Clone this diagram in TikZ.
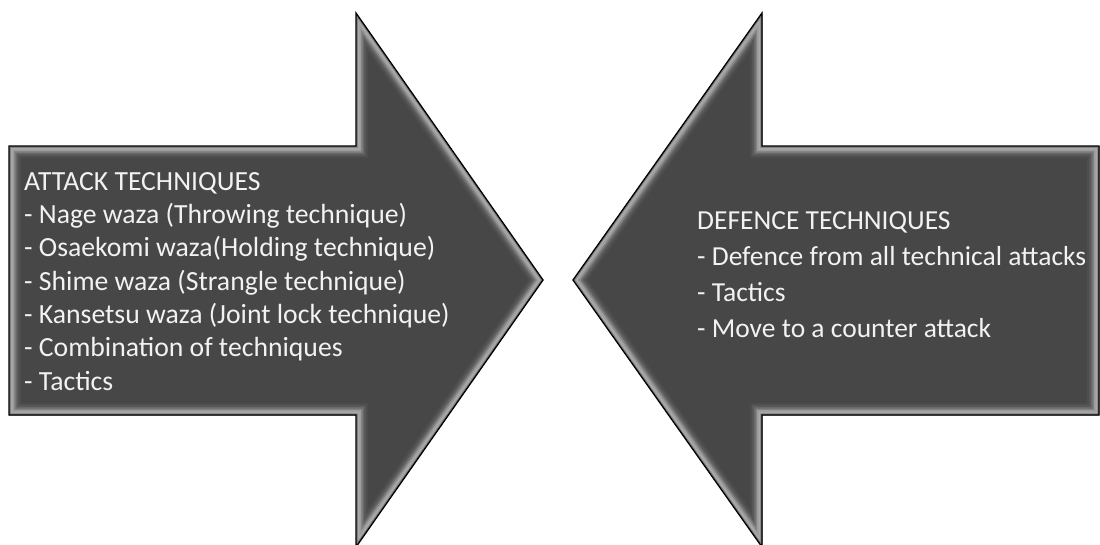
\documentclass[tikz,border=0pt]{standalone}
\usepackage{fontspec}
\setmainfont{Carlito}
\definecolor{arrowfill}{HTML}{474747}
\definecolor{bev1}{HTML}{4D4D4D}
\definecolor{bev2}{HTML}{585858}
\definecolor{bev3}{HTML}{6A6A6A}
\definecolor{bev4}{HTML}{828282}
\definecolor{bev5}{HTML}{9C9C9C}
\definecolor{bev6}{HTML}{A8A8A8}
\definecolor{bev7}{HTML}{808080}
\definecolor{textwhite}{HTML}{F2F2F2}
\tikzset{
  listtext/.style={text=textwhite, align=left, inner sep=0pt, anchor=base west},
}
% bevelled block arrow: fill, inner soft ridge (clipped strokes), black rim
\newcommand{\bevelarrow}[1]{%
  \fill[arrowfill] #1;
  \begin{scope}
    \clip #1;
    \draw[bev1, line width=24pt, line join=miter] #1;
    \draw[bev2, line width=20pt, line join=miter] #1;
    \draw[bev3, line width=16pt, line join=miter] #1;
    \draw[bev4, line width=13pt, line join=miter] #1;
    \draw[bev5, line width=10pt, line join=miter] #1;
    \draw[bev6, line width=7pt, line join=miter] #1;
    \draw[bev7, line width=3.5pt, line join=miter] #1;
  \end{scope}
  \draw[black, line width=1.3pt, line join=miter] #1;
}
\begin{document}
\begin{tikzpicture}[x=1pt,y=-1pt]
  \useasboundingbox (0,0) rectangle (1100,544);
  \fill[white] (0,0) rectangle (1100,544);
  % attack arrow pointing right
  \bevelarrow{(9,146) -- (356,146) -- (356,13) -- (543,280) -- (356,547) -- (356,415) -- (9,415) -- cycle}
  % defence arrow pointing left
  \bevelarrow{(1099,146) -- (762,146) -- (762,13) -- (573,280) -- (762,547) -- (762,415) -- (1099,415) -- cycle}
  % base anchor sits on the last line
  \node[listtext, font=\fontsize{27.7}{33.3}\selectfont] (attack) at (24,390)
    {ATTACK TECHNIQUES\\
     - Nage waza (Throwing technique)\\
     - Osaekomi waza(Holding technique)\\
     - Shime waza (Strangle technique)\\
     - Kansetsu waza (Joint lock technique)\\
     - Combination of techniques\\
     - Tactics};
  \node[listtext, font=\fontsize{27.5}{36}\selectfont] (defence) at (697,337)
    {DEFENCE TECHNIQUES\\
     - Defence from all technical attacks\\
     - Tactics\\
     - Move to a counter attack};
\end{tikzpicture}
\end{document}
